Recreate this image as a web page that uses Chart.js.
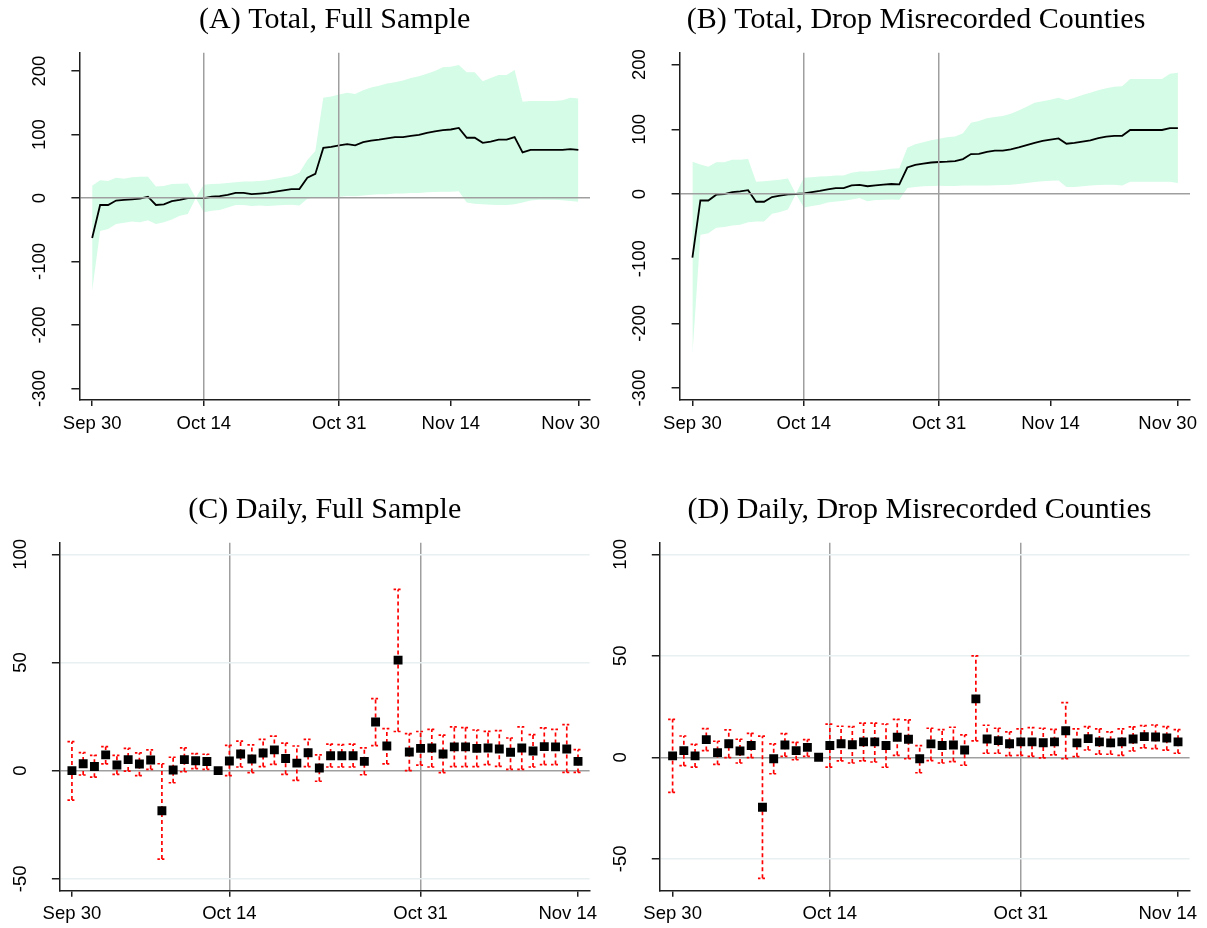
<!DOCTYPE html>
<html>
<head>
<meta charset="utf-8">
<script src="https://cdn.jsdelivr.net/npm/chart.js@4.4.1/dist/chart.umd.min.js"></script>
<style>
  html, body { margin: 0; padding: 0; background: #fff; overflow: hidden; }
  body { width: 1207px; height: 928px; position: relative; }
  canvas { position: absolute; }
</style>
</head>
<body>
<canvas id="chartA"></canvas>
<canvas id="chartB"></canvas>
<canvas id="chartC"></canvas>
<canvas id="chartD"></canvas>
<script>
// x values are days since Sep 30 (array index = day)
const totalTickDays = [0, 14, 31, 45, 61];
const totalTickLabels = ["Sep 30", "Oct 14", "Oct 31", "Nov 14", "Nov 30"];
const dailyTickDays = [0, 14, 31, 45];
const dailyTickLabels = ["Sep 30", "Oct 14", "Oct 31", "Nov 14"];
const markerDays = [14, 31];

const totalYTicks = [-300, -200, -100, 0, 100, 200];
const totalYLabels = ["-300", "-200", "-100", "0", "100", "200"];
const dailyYTicks = [-50, 0, 50, 100];
const dailyYLabels = ["-50", "0", "50", "100"];

// (A) total, full sample
const fullTotal = [-63, -11, -11, -4, -3, -2, -1, 2, -11, -10, -5, -3, 0, 0, 0, 2, 3, 5, 8, 8,
  6, 7, 8, 10, 12, 14, 14, 32, 38, 79, 80.5, 83, 85, 83, 88, 90.5, 92, 94, 96, 96,
  98, 99.5, 102.6, 105, 107, 108, 110.5, 95, 95, 87, 89, 92, 92, 96, 72, 76, 76, 76, 76, 76,
  77, 76];
const fullTotalHi = [19.5, 28, 27, 32, 30.5, 32.6, 33.7, 33.7, 18, 19, 22, 22.6, 23, 0, 21, 22, 22.6, 23.7, 25, 26,
  26, 27, 28, 30.5, 32.6, 34.7, 40, 60, 74, 158, 160, 163, 166, 164, 170, 174, 177, 180.5, 182.6, 185,
  189, 192, 196, 200, 206, 207, 209.5, 198, 198, 184, 189, 194, 194, 201.6, 151.6, 153, 153, 153, 153, 154,
  158, 157];
const fullTotalLo = [-146, -52, -49, -41, -39, -37, -38, -35, -41, -38, -34, -28, -25, 0, -22.6, -20, -19, -15, -11, -11,
  -12.6, -11.6, -12.6, -11.6, -11, -10.5, -11.6, -1, 1, 1, 1, 2, 3, 2.6, 4, 5, 6, 6, 7, 7,
  8, 8, 9, 9.5, 10, 10, 10.5, -7, -9, -10, -10.5, -11, -11, -10, -7, -4, -2.6, -2.6, -2.6, -3.7,
  -4.7, -6];

// (B) total, drop misrecorded counties
const dropTotal = [-98.4, -10, -10, -1, 0, 3, 4, 6, -12, -12, -4.7, -2.6, -0.5, 0, 1, 3, 4.7, 7, 9, 9,
  13.5, 14, 12, 13.5, 14.5, 15.5, 15, 41, 45, 47, 48.7, 49.5, 50, 51, 54, 61.7, 62, 65, 67, 67,
  69, 72, 75.6, 79, 82, 84, 86, 77.7, 79, 81, 83, 86.5, 88.6, 90, 90, 99, 99, 99, 99, 99,
  102, 102];
const dropTotalHi = [50, 45.6, 42, 49, 49, 53, 53, 54, 19, 19.7, 21, 22, 24, 0, 25, 26, 27, 27.5, 28.5, 28.5,
  33, 34.7, 34.7, 36, 37, 39, 40, 71.5, 77, 80, 83, 85.5, 87.6, 89, 93.8, 110, 113, 117, 119, 120.7,
  124, 129, 135, 141, 143.5, 145.6, 149, 145, 148.7, 153, 156.5, 160.6, 163.7, 165.8, 166.8, 178, 178, 178, 178, 178,
  186, 187.6];
const dropTotalLo = [-248, -63, -60.6, -52, -51, -48.7, -47.7, -43.5, -42.5, -42.5, -30.6, -28, -24, 0, -20.7, -18.7, -16.6, -13, -11.4, -10.4,
  -8.3, -6, -11, -9.3, -8.8, -8.3, -8.8, 9.3, 11, 12, 12.4, 12.7, 12.4, 12.4, 13, 13, 13, 13, 13.5, 14,
  14.5, 15.5, 17, 18.7, 19.7, 20.7, 21, 11, 11, 12, 13, 14, 14.5, 14.5, 13, 19, 19, 19, 19, 19,
  19, 17];

// (C) daily, full sample (null = no interval on the reference day)
const fullDaily = [0, 3.2, 1.9, 7.3, 2.6, 5.1, 3.1, 4.9, -18.5, 0.3, 5.1, 4.6, 4.2, 0, 4.5, 7.7, 5.4, 8.2, 9.6, 5.6,
  3.5, 8.3, 1.2, 6.9, 6.9, 6.9, 4.3, 22.5, 11.4, 51.1, 8.6, 10.3, 10.5, 7.7, 11, 11, 10.3, 10.5, 10, 8.5,
  10.5, 9.1, 11.1, 11, 10, 4.3];
const fullDailyHi = [13.4, 8.3, 7.1, 11.1, 7.1, 10.3, 8.2, 9.6, 3.2, 6.2, 10.5, 7.9, 7.6, null, 11.7, 13.7, 11.9, 14.5, 16, 12.7,
  11.4, 14.5, 7.3, 12.3, 12, 12.3, 10.5, 33.3, 19.4, 83.8, 17.1, 18.1, 19.1, 16.4, 20.2, 19.9, 18.8, 18.2, 18.5, 15.1,
  20.2, 16.7, 19.8, 19.1, 21.3, 9.7];
const fullDailyLo = [-13.6, -2, -3, 3.1, -1.7, -0.2, -2.3, 0.6, -40.9, -5.6, -0.5, 0.9, 0.6, null, -2.3, 1.7, -0.9, 1.9, 2.9, -1.7,
  -4.5, 1.9, -4.9, 1.7, 1.7, 1.7, -1.9, 11.6, 3.1, 18.1, 0, 2.6, 1.7, -0.9, 1.9, 1.9, 1.9, 2.8, 2, 0.6,
  0.6, 1.7, 2.8, 2.8, -0.8, -0.8];

// (D) daily, drop misrecorded counties
const dropDaily = [0.7, 3.3, 0.7, 8.7, 2.3, 6.7, 3.1, 5.8, -24.6, -0.7, 6.1, 3.3, 4.9, 0, 5.8, 6.7, 6.2, 7.6, 7.6, 5.8,
  9.9, 8.9, -0.7, 6.6, 5.8, 6.1, 3.6, 28.8, 9, 8.2, 6.7, 7.6, 7.6, 7.2, 7.6, 13.1, 7.1, 9.2, 7.6, 7.1,
  7.6, 9, 10.2, 10, 9.5, 7.6];
const dropDailyHi = [18.7, 10.5, 6.4, 14.1, 7.9, 13.5, 8.9, 11.8, 10.4, 6.6, 11.7, 7.4, 8.7, null, 16.3, 15.3, 15.1, 16.8, 16.8, 16.4,
  18.7, 18.4, 5.8, 14.3, 13.6, 14.8, 11, 50, 15.8, 14.3, 12.5, 14, 14.6, 14.3, 13.8, 26.9, 14, 15.1, 14, 12.5,
  14, 15, 15.6, 15.9, 15.1, 13.6];
const dropDailyLo = [-17.3, -4.1, -4.8, 3.3, -3.5, -0.2, -2.8, -0.2, -59.6, -8.1, 0.5, -1.2, 0.5, null, -4.8, -1.8, -2.8, -1.8, -2.3, -4.9,
  1, -0.7, -7.6, -1.6, -2.8, -2.1, -3.9, 8.1, 2, 2, 0.8, 1, 0.5, -0.3, 1.2, -0.7, 0.3, 3.6, 1.6, 1.5,
  1, 3.1, 4.6, 4.3, 3.5, 2];

const axisColor = "#1e1e1e";
const refColor = "#9f9f9f";
const lightGrid = "#e9f0f2";
const bandColor = "rgb(212, 252, 230)";
const errColor = "#ff0000";

const tickFont = { family: '"Liberation Sans", Arial, sans-serif', size: 18.5 };
const titleFont = { family: '"Liberation Serif", "Times New Roman", serif', size: 30, weight: "normal" };

const measureCtx = document.createElement("canvas").getContext("2d");
function widestLabel(labels) {
  measureCtx.font = `${tickFont.size}px ${tickFont.family}`;
  return Math.max(...labels.map((l) => measureCtx.measureText(l).width));
}

const toPoints = (arr) => arr.map((v, i) => ({ x: i, y: v }));

function totalDatasets(mid, hi, lo) {
  return [
    { data: toPoints(mid), borderColor: "#000", borderWidth: 1.8, pointRadius: 0, fill: false, order: 0 },
    { data: toPoints(hi), borderColor: "transparent", borderWidth: 0, pointRadius: 0,
      backgroundColor: bandColor, fill: "+1", order: 1 },
    { data: toPoints(lo), borderColor: "transparent", borderWidth: 0, pointRadius: 0, fill: false, order: 1 },
  ];
}

const capHalf = 0.4;
function dailyDatasets(mid, hi, lo) {
  const bars = [];
  const caps = [];
  mid.forEach((v, i) => {
    if (hi[i] === null) return;
    bars.push({ x: i, y: lo[i] }, { x: i, y: hi[i] }, { x: i, y: null });
    caps.push({ x: i - capHalf, y: hi[i] }, { x: i + capHalf, y: hi[i] }, { x: i, y: null },
              { x: i - capHalf, y: lo[i] }, { x: i + capHalf, y: lo[i] }, { x: i, y: null });
  });
  return [
    { data: toPoints(mid), showLine: false, pointStyle: "rect", pointRadius: 6.3,
      pointBackgroundColor: "#000", pointBorderWidth: 0, order: 0 },
    { data: bars, borderColor: errColor, borderWidth: 1.7, borderDash: [4, 3], pointRadius: 0, order: 1 },
    { data: caps, borderColor: errColor, borderWidth: 1.7, borderDash: [2.5, 2], pointRadius: 0, order: 1 },
  ];
}

function buildChart(p, datasets) {
  const canvas = document.getElementById(p.id);
  canvas.width = p.box.width;
  canvas.height = p.box.height;
  canvas.style.left = p.box.left + "px";
  canvas.style.top = p.box.top + "px";

  const titlePadTop = p.titleY - p.box.top - 18;
  const titlePadBottom = p.area.t - p.box.top - 36 - titlePadTop;
  let padL = 0;
  let fullSize = false;
  if (p.titleX !== undefined) {
    // full-width title: its centre is half way between the padding edge and the plot's right edge
    fullSize = true;
    padL = 2 * p.titleX - p.area.r - p.box.left;
  }
  const yWidth = p.area.l - p.box.left - padL;
  const padR = p.box.left + p.box.width - p.area.r;
  const xHeight = 40;
  const padB = p.box.top + p.box.height - p.area.b - xHeight;
  // mirrored labels are not clipped to the axis box; a negative padding puts them back left of the axis
  const yPad = -39.3 - widestLabel(p.yLabels) / 2;

  return new Chart(canvas, {
    type: "line",
    data: { datasets },
    options: {
      responsive: false,
      animation: false,
      events: [],
      layout: { padding: { left: padL, right: padR, top: 0, bottom: padB } },
      plugins: {
        legend: { display: false },
        tooltip: { enabled: false },
        title: {
          display: true, text: p.title, fullSize, font: titleFont, color: "#000",
          padding: { top: titlePadTop, bottom: titlePadBottom },
        },
      },
      scales: {
        x: {
          type: "linear", min: p.xMin, max: p.xMax,
          afterFit: (s) => { s.height = xHeight; },
          afterBuildTicks: (s) => { s.ticks = p.xTicks.map((v) => ({ value: v })); },
          ticks: {
            font: tickFont, color: "#000", padding: 6.4, minRotation: 0, maxRotation: 0, autoSkip: false,
            // last label sits a little inside the right edge, as in the original
            callback: (v, i) => p.xLabels[i] + (i === p.xLabels.length - 1 ? " ".repeat(p.lastPad) : ""),
          },
          grid: {
            z: p.gridZ,
            color: (ctx) => (markerDays.includes(ctx.tick && ctx.tick.value) ? refColor : "rgba(0,0,0,0)"),
            lineWidth: 1.5, tickLength: 6, tickColor: axisColor, tickWidth: 1.5,
          },
          border: { z: p.gridZ, color: axisColor, width: 1.5 },
        },
        y: {
          type: "linear", min: p.yMin, max: p.yMax,
          afterFit: (s) => { s.width = yWidth; },
          afterBuildTicks: (s) => { s.ticks = p.yTicks.map((v) => ({ value: v })); },
          ticks: {
            font: tickFont, color: "#000", padding: yPad, mirror: true, minRotation: 90, maxRotation: 90,
            crossAlign: "center", autoSkip: false,
            callback: (v, i) => p.yLabels[i],
          },
          grid: {
            z: p.gridZ,
            color: (ctx) => (ctx.tick && ctx.tick.value === 0 ? refColor : p.gridColor),
            lineWidth: 1.5, tickLength: 8, tickColor: axisColor, tickWidth: 1.5,
          },
          border: { z: p.gridZ, color: axisColor, width: 1.5 },
        },
      },
    },
  });
}

buildChart({
  id: "chartA", title: "(A) Total, Full Sample",
  box: { left: 0, top: 0, width: 640, height: 450 },
  area: { l: 79.4, t: 52.7, r: 590, b: 400 }, titleY: 19.7,
  xMin: -1.6, xMax: 62.46, yMin: -318.3, yMax: 229,
  xTicks: totalTickDays, xLabels: totalTickLabels, yTicks: totalYTicks, yLabels: totalYLabels,
  lastPad: 3, gridZ: 1, gridColor: "rgba(0,0,0,0)",
}, totalDatasets(fullTotal, fullTotalHi, fullTotalLo));

buildChart({
  id: "chartB", title: "(B) Total, Drop Misrecorded Counties",
  box: { left: 600, top: 0, width: 640, height: 450 },
  area: { l: 679.6, t: 52.7, r: 1190, b: 400 }, titleY: 19.7, titleX: 916,
  xMin: -1.61, xMax: 62.52, yMin: -318.5, yMax: 218.5,
  xTicks: totalTickDays, xLabels: totalTickLabels, yTicks: totalYTicks, yLabels: totalYLabels,
  lastPad: 4, gridZ: 1, gridColor: "rgba(0,0,0,0)",
}, totalDatasets(dropTotal, dropTotalHi, dropTotalLo));

buildChart({
  id: "chartC", title: "(C) Daily, Full Sample",
  box: { left: 0, top: 468, width: 640, height: 465 },
  area: { l: 59.9, t: 542.7, r: 589.6, b: 890.7 }, titleY: 510,
  xMin: -1.07, xMax: 46.03, yMin: -55.5, yMax: 105.4,
  xTicks: dailyTickDays, xLabels: dailyTickLabels, yTicks: dailyYTicks, yLabels: dailyYLabels,
  lastPad: 4, gridZ: -1, gridColor: lightGrid,
}, dailyDatasets(fullDaily, fullDailyHi, fullDailyLo));

buildChart({
  id: "chartD", title: "(D) Daily, Drop Misrecorded Counties",
  box: { left: 600, top: 468, width: 640, height: 465 },
  area: { l: 659.8, t: 542.7, r: 1189.6, b: 890.7 }, titleY: 510, titleX: 919.5,
  xMin: -1.14, xMax: 46.03, yMin: -65.7, yMax: 105.7,
  xTicks: dailyTickDays, xLabels: dailyTickLabels, yTicks: dailyYTicks, yLabels: dailyYLabels,
  lastPad: 4, gridZ: -1, gridColor: lightGrid,
}, dailyDatasets(dropDaily, dropDailyHi, dropDailyLo));
</script>
</body>
</html>
